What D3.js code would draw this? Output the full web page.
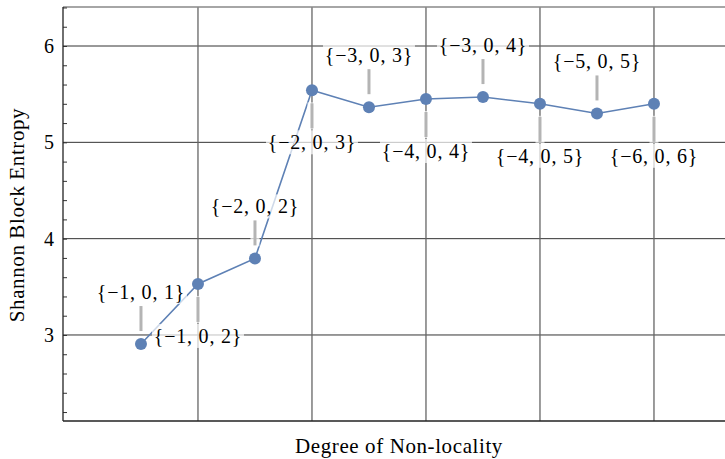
<!DOCTYPE html>
<html>
<head>
<meta charset="utf-8">
<script src="https://cdn.jsdelivr.net/npm/d3@7"></script>
<style>
  body { margin: 0; background: #fff; }
  text { font-family: "Liberation Serif", "DejaVu Serif", serif; }
</style>
</head>
<body>
<svg id="chart" width="725" height="459"></svg>
<script>
// degree of non-locality, one point per rule
var steps = [1, 2, 3, 4, 5, 6, 7, 8, 9, 10];
var entropy = [2.906, 3.53, 3.795, 5.54, 5.365, 5.45, 5.47, 5.40, 5.30, 5.40];
var ruleLabels = ["{\u22121, 0, 1}", "{\u22121, 0, 2}", "{\u22122, 0, 2}", "{\u22122, 0, 3}",
  "{\u22123, 0, 3}", "{\u22124, 0, 4}", "{\u22123, 0, 4}", "{\u22124, 0, 5}",
  "{\u22125, 0, 5}", "{\u22126, 0, 6}"];
var labelSide = [-1, 1, -1, 1, -1, 1, -1, 1, -1, 1]; // -1 above, 1 below
var yTicks = [3, 4, 5, 6];
var xGrid = [2, 4, 6, 8, 10];

var svg = d3.select("#chart");
var pLeft = 63, pRight = 725, pTop = 7, pBottom = 421;
var blue = "#5e81b5";

var x = d3.scaleLinear().domain([-0.368, 11.246]).range([pLeft, pRight]);
var y = d3.scaleLinear().domain([2.107, 6.405]).range([pBottom, pTop]);

var data = steps.map(function (d, i) {
  return {x: d, y: entropy[i], label: ruleLabels[i], side: labelSide[i]};
});

//grid lines
svg.append("g")
  .selectAll("line")
  .data(yTicks)
  .enter()
  .append("line")
  .attr("x1", pLeft).attr("x2", pRight)
  .attr("y1", function (d) { return y(d); })
  .attr("y2", function (d) { return y(d); })
  .style("stroke", "#333")
  .style("stroke-width", 1);

svg.append("g")
  .selectAll("line")
  .data(xGrid)
  .enter()
  .append("line")
  .attr("x1", function (d) { return x(d); })
  .attr("x2", function (d) { return x(d); })
  .attr("y1", pTop).attr("y2", pBottom)
  .style("stroke", "#666")
  .style("stroke-width", 1.3);

//frame
svg.append("line").attr("x1", pLeft).attr("x2", pRight).attr("y1", pTop).attr("y2", pTop)
  .style("stroke", "#888").style("stroke-width", 1.3);

//y axis with minor ticks
var yAxis = d3.axisLeft(y)
  .tickValues(d3.range(22, 65, 2).map(function (d) { return d / 10; }))
  .tickSize(-4)
  .tickFormat("");
var yg = svg.append("g").attr("transform", "translate(" + pLeft + ",0)").call(yAxis);
yg.select(".domain").remove();
yg.selectAll("line").style("stroke", "#333");

svg.append("g")
  .selectAll("text")
  .data(yTicks)
  .enter()
  .append("text")
  .attr("x", pLeft - 9)
  .attr("y", function (d) { return y(d); })
  .attr("dy", "0.35em")
  .attr("text-anchor", "end")
  .style("font-size", "20px")
  .text(function (d) { return d; });

svg.append("line").attr("x1", pLeft).attr("x2", pLeft).attr("y1", pTop).attr("y2", pBottom)
  .style("stroke", "#222").style("stroke-width", 1.3);
svg.append("line").attr("x1", pLeft).attr("x2", pRight).attr("y1", pBottom).attr("y2", pBottom)
  .style("stroke", "#222").style("stroke-width", 1.3);

//the line and points
var line = d3.line()
  .x(function (d) { return x(d.x); })
  .y(function (d) { return y(d.y); });

svg.append("path")
  .datum(data)
  .attr("d", line)
  .style("fill", "none")
  .style("stroke", blue)
  .style("stroke-width", 1.6);

svg.append("g")
  .selectAll("circle")
  .data(data)
  .enter()
  .append("circle")
  .attr("cx", function (d) { return x(d.x); })
  .attr("cy", function (d) { return y(d.y); })
  .attr("r", 6)
  .style("fill", blue);

//callouts
var callouts = svg.append("g")
  .selectAll("g")
  .data(data)
  .enter()
  .append("g")
  .attr("transform", function (d) {
    return "translate(" + x(d.x) + "," + y(d.y) + ")";
  });

callouts.append("line")
  .attr("y1", function (d) { return d.side * 12; })
  .attr("y2", function (d) { return d.side * 39; })
  .style("stroke", "#fff")
  .style("stroke-opacity", 0.7)
  .style("stroke-width", 9);

callouts.append("line")
  .attr("y1", function (d) { return d.side * 13; })
  .attr("y2", function (d) { return d.side * 38; })
  .style("stroke", "#b4b4b4")
  .style("stroke-width", 3);

callouts.append("rect")
  .attr("x", -46)
  .attr("y", function (d) { return d.side * 52 - 12; })
  .attr("width", 92)
  .attr("height", 24)
  .style("fill", "#fff")
  .style("fill-opacity", 0.7);

callouts.append("text")
  .attr("y", function (d) { return d.side * 52; })
  .attr("dy", "0.35em")
  .attr("text-anchor", "middle")
  .style("font-size", "20px")
  .style("letter-spacing", "0.8px")
  .text(function (d) { return d.label; });

//axis titles
svg.append("text")
  .attr("x", 399)
  .attr("y", 446)
  .attr("dy", "0.35em")
  .attr("text-anchor", "middle")
  .style("font-size", "21px")
  .style("letter-spacing", "0.6px")
  .text("Degree of Non-locality");

svg.append("text")
  .attr("transform", "translate(17,215) rotate(-90)")
  .attr("dy", "0.35em")
  .attr("text-anchor", "middle")
  .style("font-size", "21px")
  .style("letter-spacing", "0.6px")
  .text("Shannon Block Entropy");
</script>
</body>
</html>
